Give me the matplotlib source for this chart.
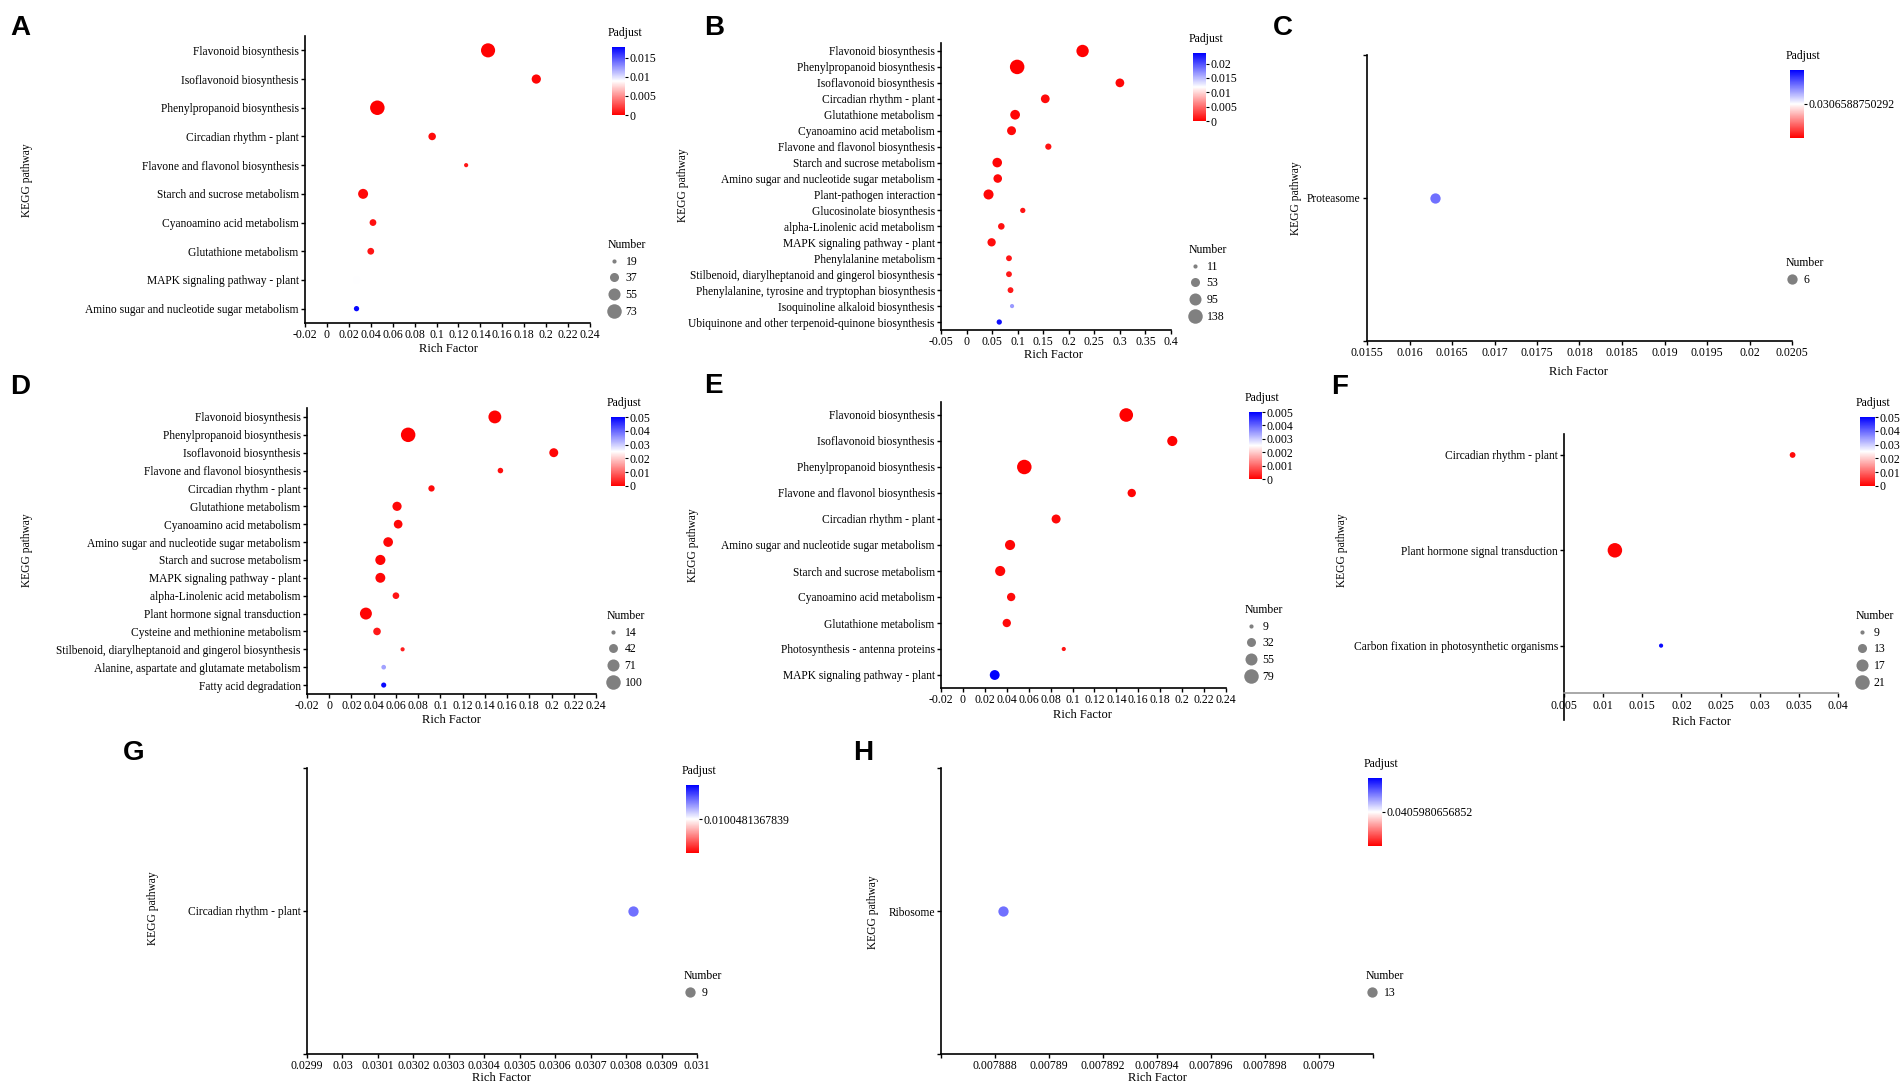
import numpy as np
import matplotlib
matplotlib.use('Agg')
import matplotlib.pyplot as plt
from matplotlib.colors import LinearSegmentedColormap, Normalize
from matplotlib.cm import ScalarMappable
from matplotlib.lines import Line2D

# ---- data -------------------------------------------------------------
terms_a = ['Flavonoid biosynthesis', 'Isoflavonoid biosynthesis', 'Phenylpropanoid biosynthesis',
           'Circadian rhythm - plant', 'Flavone and flavonol biosynthesis', 'Starch and sucrose metabolism',
           'Cyanoamino acid metabolism', 'Glutathione metabolism', 'MAPK signaling pathway - plant',
           'Amino sugar and nucleotide sugar metabolism']
rich_a = [0.147, 0.191, 0.046, 0.096, 0.127, 0.033, 0.042, 0.040, 0.027, 0.027]
padj_a = [0.0001, 0.0002, 0.00005, 0.0004, 0.0008, 0.0003, 0.0006, 0.0007, 0.0089, 0.0175]
num_a = [70, 38, 73, 30, 19, 42, 27, 27, 28, 22]
legend_a = [19, 37, 55, 73]

terms_b = ['Flavonoid biosynthesis', 'Phenylpropanoid biosynthesis', 'Isoflavonoid biosynthesis',
           'Circadian rhythm - plant', 'Glutathione metabolism', 'Cyanoamino acid metabolism',
           'Flavone and flavonol biosynthesis', 'Starch and sucrose metabolism',
           'Amino sugar and nucleotide sugar metabolism', 'Plant-pathogen interaction',
           'Glucosinolate biosynthesis', 'alpha-Linolenic acid metabolism', 'MAPK signaling pathway - plant',
           'Phenylalanine metabolism', 'Stilbenoid, diarylheptanoid and gingerol biosynthesis',
           'Phenylalanine, tyrosine and tryptophan biosynthesis', 'Isoquinoline alkaloid biosynthesis',
           'Ubiquinone and other terpenoid-quinone biosynthesis']
rich_b = [0.227, 0.099, 0.300, 0.154, 0.095, 0.088, 0.160, 0.060, 0.061, 0.043,
          0.110, 0.068, 0.049, 0.083, 0.083, 0.086, 0.089, 0.064]
padj_b = [0.0001, 0.00005, 0.0003, 0.0005, 0.0002, 0.0004, 0.0009, 0.0002, 0.0004, 0.0003,
          0.0010, 0.0008, 0.0006, 0.0011, 0.0012, 0.0012, 0.0165, 0.0230]
num_b = [100, 138, 50, 50, 62, 52, 25, 60, 48, 66, 18, 28, 45, 22, 22, 22, 11, 18]
legend_b = [11, 53, 95, 138]

term_c = ['Proteasome']
rich_c = [0.0163]
padj_c = [0.0306588750292]
num_c = [6]

terms_d = ['Flavonoid biosynthesis', 'Phenylpropanoid biosynthesis', 'Isoflavonoid biosynthesis',
           'Flavone and flavonol biosynthesis', 'Circadian rhythm - plant', 'Glutathione metabolism',
           'Cyanoamino acid metabolism', 'Amino sugar and nucleotide sugar metabolism',
           'Starch and sucrose metabolism', 'MAPK signaling pathway - plant', 'alpha-Linolenic acid metabolism',
           'Plant hormone signal transduction', 'Cysteine and methionine metabolism',
           'Stilbenoid, diarylheptanoid and gingerol biosynthesis',
           'Alanine, aspartate and glutamate metabolism', 'Fatty acid degradation']
rich_d = [0.149, 0.071, 0.202, 0.154, 0.092, 0.061, 0.062, 0.053, 0.046, 0.046,
          0.060, 0.033, 0.043, 0.066, 0.049, 0.049]
padj_d = [0.0002, 0.0001, 0.0006, 0.0015, 0.0010, 0.0008, 0.0009, 0.0007, 0.0005, 0.0006,
          0.0020, 0.0004, 0.0025, 0.0030, 0.0340, 0.0490]
num_d = [80, 100, 42, 20, 24, 44, 40, 48, 52, 50, 26, 70, 32, 14, 16, 18]
legend_d = [14, 42, 71, 100]

terms_e = ['Flavonoid biosynthesis', 'Isoflavonoid biosynthesis', 'Phenylpropanoid biosynthesis',
           'Flavone and flavonol biosynthesis', 'Circadian rhythm - plant',
           'Amino sugar and nucleotide sugar metabolism', 'Starch and sucrose metabolism',
           'Cyanoamino acid metabolism', 'Glutathione metabolism', 'Photosynthesis - antenna proteins',
           'MAPK signaling pathway - plant']
rich_e = [0.149, 0.191, 0.056, 0.154, 0.085, 0.043, 0.034, 0.044, 0.040, 0.092, 0.029]
padj_e = [0.00001, 0.00003, 0.00001, 0.00005, 0.00008, 0.00006, 0.00007, 0.0001, 0.0001, 0.0002, 0.0050]
num_e = [70, 40, 79, 28, 32, 40, 40, 28, 28, 9, 38]
legend_e = [9, 32, 55, 79]

terms_f = ['Circadian rhythm - plant', 'Plant hormone signal transduction',
           'Carbon fixation in photosynthetic organisms']
rich_f = [0.0342, 0.0115, 0.0174]
padj_f = [0.0010, 0.0005, 0.0490]
num_f = [10, 21, 9]
legend_f = [9, 13, 17, 21]

term_g = ['Circadian rhythm - plant']
rich_g = [0.03082]
padj_g = [0.0100481367839]
num_g = [9]

term_h = ['Ribosome']
rich_h = [0.0078883]
padj_h = [0.0405980656852]
num_h = [13]

xticks_a = [-0.02, 0, 0.02, 0.04, 0.06, 0.08, 0.1, 0.12, 0.14, 0.16, 0.18, 0.2, 0.22, 0.24]
xticks_b = [-0.05, 0, 0.05, 0.1, 0.15, 0.2, 0.25, 0.3, 0.35, 0.4]
xticks_c = [0.0155, 0.016, 0.0165, 0.017, 0.0175, 0.018, 0.0185, 0.019, 0.0195, 0.02, 0.0205]
xticks_f = [0.005, 0.01, 0.015, 0.02, 0.025, 0.03, 0.035, 0.04]
xticks_g = [0.0299, 0.03, 0.0301, 0.0302, 0.0303, 0.0304, 0.0305, 0.0306, 0.0307, 0.0308, 0.0309, 0.031]
xticks_h = [0.007886, 0.007888, 0.00789, 0.007892, 0.007894, 0.007896, 0.007898, 0.0079, 0.007902]
xlabels_h = ['', '0.007888', '0.00789', '0.007892', '0.007894', '0.007896', '0.007898', '0.0079', '']

# ---- figure -----------------------------------------------------------
W, H = 1904, 1087
plt.rcParams['font.family'] = ['Liberation Serif', 'DejaVu Serif']
plt.rcParams['font.size'] = 8.3
fig = plt.figure(figsize=(W / 100, H / 100), dpi=100)

cmap = LinearSegmentedColormap.from_list('padj', ['#ff0000', '#ffffff', '#0000ff'])


def rect(l, t, r, b):
    return [l / W, 1 - b / H, (r - l) / W, (b - t) / H]


def size_of(n, lo, hi):
    n = np.asarray(n, dtype=float)
    if hi == lo:
        return np.full(n.shape, 55.0)
    return 9 + (n - lo) / (hi - lo) * 100


def panel(letter, letter_xy, box, terms, rich, padj, num, legend_vals, xticks, xlabels,
          cb_box, cb_range, cb_ticks, cb_labels, leg_xy, ylab_xy, xlab_xy,
          ylim=None, single=False, xspine_at=None):
    ax = fig.add_axes(rect(*box))
    y = np.arange(len(terms))
    norm = Normalize(*cb_range)
    if single:
        colors = [cmap(0.78)] * len(terms)
    else:
        colors = cmap(norm(padj))
    lo, hi = min(legend_vals), max(legend_vals)
    ax.scatter(rich, y, s=size_of(num, lo, hi), c=colors, linewidths=0, zorder=3, clip_on=False)
    if ylim is None:
        ylim = (len(terms) - 0.5, -0.5)
    if single:
        # tick marks at both ends of the y axis, as in the source software
        ax.set_yticks([ylim[1], 0, ylim[0]])
        ax.set_yticklabels([''] + list(terms) + [''])
    else:
        ax.set_yticks(y)
        ax.set_yticklabels(terms)
    ax.set_ylim(*ylim)
    ax.set_xticks(xticks)
    ax.set_xticklabels(xlabels)
    ax.set_xlim(xticks[0], xticks[-1])
    for s in ['top', 'right']:
        ax.spines[s].set_visible(False)
    for s in ['left', 'bottom']:
        ax.spines[s].set_linewidth(1.2)
    if xspine_at is not None:
        ax.spines['bottom'].set_position(('data', xspine_at))
        ax.spines['bottom'].set_color('#9a9a9a')
    ax.tick_params(direction='out', length=3, width=1, labelsize=8.5, pad=1.5)
    ax.tick_params(axis='y', labelsize=8.3)

    fig.text(letter_xy[0] / W, 1 - letter_xy[1] / H, letter, fontsize=20, fontweight='bold',
             family='Liberation Sans', ha='center', va='center')
    fig.text(ylab_xy[0] / W, 1 - ylab_xy[1] / H, 'KEGG pathway', rotation=90,
             ha='center', va='center', fontsize=8.3)
    fig.text(xlab_xy[0] / W, 1 - xlab_xy[1] / H, 'Rich Factor', ha='center', va='center', fontsize=9)

    # Padjust colour bar
    cax = fig.add_axes(rect(*cb_box))
    cb = fig.colorbar(ScalarMappable(norm=norm, cmap=cmap), cax=cax)
    cb.set_ticks(cb_ticks)
    cb.set_ticklabels(cb_labels)
    cb.outline.set_visible(False)
    cax.tick_params(length=2.5, width=0.8, labelsize=8.5, pad=1)
    fig.text((cb_box[0] - 4) / W, 1 - (cb_box[1] - 14) / H, 'Padjust', ha='left', va='center',
             fontsize=8.5)

    # Number legend
    handles = [Line2D([], [], marker='o', linestyle='', color='#808080', markeredgewidth=0,
                      markersize=np.sqrt(size_of([v], lo, hi)[0])) for v in legend_vals]
    fig.legend(handles, [str(v) for v in legend_vals], title='Number', loc='upper left',
               bbox_to_anchor=(leg_xy[0] / W, 1 - leg_xy[1] / H), frameon=False, borderpad=0,
               borderaxespad=0, labelspacing=0.4, handletextpad=0.5, handlelength=1.0,
               alignment='left', prop={'size': 8.5}, title_fontsize=8.5)
    return ax


fmt = lambda ticks: ['%g' % t for t in ticks]

panel('A', (20, 28), (305, 36, 590, 323), terms_a, rich_a, padj_a, num_a, legend_a,
      xticks_a, fmt(xticks_a), (612, 47, 625, 115), (0, 0.0178), [0, 0.005, 0.01, 0.015],
      ['0', '0.005', '0.01', '0.015'], (608, 239), (27, 180), (448, 349))

panel('B', (714, 28), (941, 43, 1171, 330), terms_b, rich_b, padj_b, num_b, legend_b,
      xticks_b, fmt(xticks_b), (1193, 53, 1206, 121), (0, 0.0237), [0, 0.005, 0.01, 0.015, 0.02],
      ['0', '0.005', '0.01', '0.015', '0.02'], (1189, 244), (683, 185), (1053, 355))

panel('C', (1283, 28), (1367, 55, 1792, 341), term_c, rich_c, padj_c, num_c, num_c,
      xticks_c, fmt(xticks_c), (1790, 70, 1804, 138), (padj_c[0] * 0.5, padj_c[0] * 1.5),
      padj_c, [repr(v) for v in padj_c], (1786, 257), (1296, 198), (1578, 372),
      ylim=(1, -1), single=True)

panel('D', (20, 387), (307, 408, 596, 694), terms_d, rich_d, padj_d, num_d, legend_d,
      xticks_a, fmt(xticks_a), (611, 417, 625, 486), (0, 0.05), [0, 0.01, 0.02, 0.03, 0.04, 0.05],
      ['0', '0.01', '0.02', '0.03', '0.04', '0.05'], (607, 610), (27, 550), (451, 720))

panel('E', (713, 386), (941, 402, 1226, 688), terms_e, rich_e, padj_e, num_e, legend_e,
      xticks_a, fmt(xticks_a), (1249, 412, 1262, 479), (0, 0.005),
      [0, 0.001, 0.002, 0.003, 0.004, 0.005], ['0', '0.001', '0.002', '0.003', '0.004', '0.005'],
      (1245, 604), (693, 545), (1082, 715))

panel('F', (1340, 387), (1564, 434, 1838, 720), terms_f, rich_f, padj_f, num_f, legend_f,
      xticks_f, fmt(xticks_f), (1860, 417, 1875, 486), (0, 0.05), [0, 0.01, 0.02, 0.03, 0.04, 0.05],
      ['0', '0.01', '0.02', '0.03', '0.04', '0.05'], (1856, 610), (1342, 550), (1701, 722),
      ylim=(2.78, -0.22), xspine_at=2.5)

panel('G', (134, 753), (307, 768, 697, 1054), term_g, rich_g, padj_g, num_g, num_g,
      xticks_g, fmt(xticks_g), (686, 785, 699, 853), (padj_g[0] * 0.5, padj_g[0] * 1.5),
      padj_g, [repr(v) for v in padj_g], (684, 970), (153, 908), (501, 1078),
      ylim=(1, -1), single=True)

panel('H', (863, 753), (941, 768, 1373, 1054), term_h, rich_h, padj_h, num_h, num_h,
      xticks_h, xlabels_h, (1368, 778, 1382, 846), (padj_h[0] * 0.5, padj_h[0] * 1.5),
      padj_h, [repr(v) for v in padj_h], (1366, 970), (873, 912), (1157, 1078),
      ylim=(1, -1), single=True)

fig.savefig('out.png', dpi=100, facecolor='white')
